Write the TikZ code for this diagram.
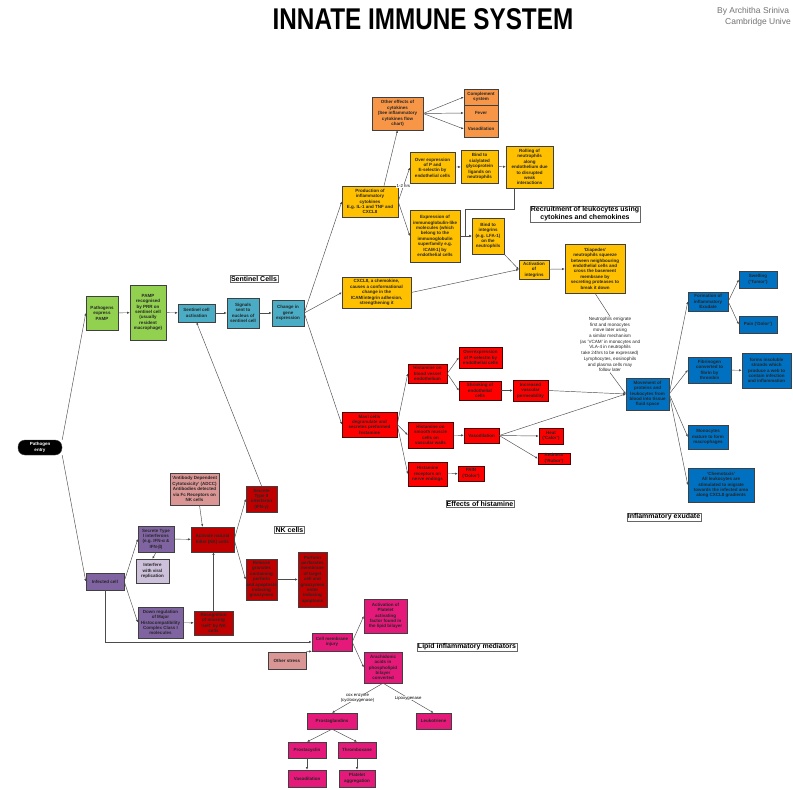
\documentclass[tikz,border=0pt]{standalone}
\usepackage{fontspec}
\setmainfont{Liberation Sans}
\usetikzlibrary{arrows.meta}
\definecolor{limeg}{HTML}{92D050}
\definecolor{aqua}{HTML}{4BACC6}
\definecolor{tangerine}{HTML}{F79646}
\definecolor{amber}{HTML}{FFC000}
\definecolor{scarlet}{HTML}{FF0000}
\definecolor{royal}{HTML}{0070C0}
\definecolor{violet}{HTML}{8064A2}
\definecolor{lilac}{HTML}{CCC0DA}
\definecolor{maroon}{HTML}{C00000}
\definecolor{rose}{HTML}{DA9694}
\definecolor{cerise}{HTML}{E5197A}
\begin{document}
\begin{tikzpicture}[x=1pt,y=-1pt]

      \tikzset{box/.style={draw=black!75, inner sep=0.5pt, align=center, text=black!85,
                 font=\fontsize{4.5}{5.4}\selectfont\bfseries},
               sz/.style 2 args={minimum width=#1pt, minimum height=#2pt},
               greenbox/.style={box, fill=limeg},
               aquabox/.style={box, fill=aqua},
               orangebox/.style={box, fill=tangerine},
               yellowbox/.style={box, fill=amber},
               redbox/.style={box, fill=scarlet, draw=black!70!red},
               bluebox/.style={box, fill=royal},
               purplebox/.style={box, fill=violet},
               lilacbox/.style={box, fill=lilac},
               nkbox/.style={box, fill=maroon},
               rosebox/.style={box, fill=rose},
               pinkbox/.style={box, fill=cerise},
               tag/.style={draw=black!60, fill=white, inner sep=1pt, align=center,
                 font=\fontsize{7}{8}\selectfont\bfseries},
               elab/.style={fill=white, inner sep=0.3pt, align=center, font=\fontsize{4.3}{5}\selectfont},
               link/.style={draw=black!70, line width=0.45pt, -{Latex[length=2.6pt,width=2.2pt]}},
               tie/.style={draw=black!70, line width=0.45pt}}
      \useasboundingbox (0,0) rectangle (793,790);
      \fill[white] (0,0) rectangle (793,790);

%% Headings
      	\node (title) at (423,19) {\scalebox{0.81}[1]{\fontsize{30}{30}\selectfont\bfseries INNATE IMMUNE SYSTEM}};
      	\node[anchor=west, text=black!55, font=\fontsize{8.5}{9}\selectfont, inner sep=0pt] (by) at (717,11) {By Architha Sriniva};
      	\node[anchor=west, text=black!55, font=\fontsize{8.5}{9}\selectfont, inner sep=0pt] (uni) at (725,22) {Cambridge Unive};
      	\node[tag] (tsentinel) at (254,279) {Sentinel Cells};
      	\node[tag] (trecruit) at (585,214) {Recruitment of leukocytes using\\cytokines and chemokines};
      	\node[tag] (thist) at (480,504) {Effects of histamine};
      	\node[tag] (texud) at (664,517) {Inflammatory exudate};
      	\node[tag] (tnk) at (289.5,529.5) {NK cells};
      	\node[tag] (tlipid) at (467,647) {Lipid inflammatory mediators};

%% Sentinel cells
      	\node[box, fill=black, text=white, rounded corners=7pt, sz={44}{15}] (entry) at (40,447.5) {Pathogen\\entry};
      	\node[greenbox, sz={32}{34}] (pamp) at (102,313) {Pathogens\\express\\PAMP};
      	\node[greenbox, sz={36}{55}] (prr) at (148,312.5) {PAMP\\recognised\\by PRR on\\sentinel cell\\(usually\\resident\\macrophage)};
      	\node[aquabox, sz={37}{18}] (sact) at (196.5,313) {Sentinel cell\\activation};
      	\node[aquabox, sz={32}{30}] (signals) at (243,313) {Signals\\sent to\\nucleus of\\sentinel cell};
      	\node[aquabox, sz={32}{26}] (gene) at (288,313) {Change in\\gene\\expression};

%% Cytokines and chemokines
      	\node[orangebox, sz={51}{33}] (other) at (397.5,113.5) {Other effects of\\cytokines\\(See inflammatory\\cytokines flow\\chart)};
      	\node[orangebox, sz={34}{16}] (compl) at (481,97) {Complement\\system};
      	\node[orangebox, sz={34}{16}] (fever) at (481,113) {Fever};
      	\node[orangebox, sz={34}{16}] (vasoa) at (481,129) {Vasodilation};
      	\node[yellowbox, sz={56}{31}] (prod) at (370,201.5) {Production of\\inflammatory\\cytokines\\E.g. IL-1 and TNF and\\CXCL8};
      	\node[yellowbox, sz={45}{31}] (overexp) at (432.5,167.5) {Over expression\\of P and\\E-selectin by\\endothelial cells};
      	\node[yellowbox, sz={37}{33}] (sialyl) at (479.5,166.5) {Bind to\\sialylated\\glycoprotein\\ligands on\\neutrophils};
      	\node[yellowbox, sz={47}{42}] (rolling) at (529.5,167) {Rolling of\\neutrophils\\along\\endothelium due\\to disrupted\\weak\\interactions};
      	\node[yellowbox, sz={50}{52}] (igexp) at (435,236) {Expression of\\immunoglobulin-like\\molecules (which\\belong to the\\immunoglobulin\\superfamily e.g.\\ICAM-1) by\\endothelial cells};
      	\node[yellowbox, sz={32}{36}] (bindint) at (488,236) {Bind to\\integrins\\(e.g. LFA-1)\\on the\\neutrophils};
      	\node[yellowbox, sz={30}{19}] (actint) at (534,269.5) {Activation\\of\\integrins};
      	\node[yellowbox, sz={69}{31}] (cxcl) at (376.5,292.5) {CXCL8, a chemokine,\\causes a conformational\\change in the\\ICAM/integrin adhesion,\\strengthening it};
      	\node[yellowbox, sz={60}{49}] (diap) at (595,268.5) {`Diapedes'\\neutrophils squeeze\\between neighbouring\\endothelial cells and\\cross the basement\\membrane by\\secreting proteases to\\break it down};
      	\node[align=center, inner sep=0.5pt, text=black!85, font=\fontsize{4.6}{5.7}\selectfont] (note) at (610,344.5) {Neutrophils emigrate\\first and monocytes\\move later using\\a similar mechanism\\(as `VCAM' in monocytes and\\VLA-4 in neutrophils\\take 24hrs to be expressed)\\Lymphocytes, eosinophils\\and plasma cells may\\follow later};
      	\coordinate (rj) at (465,209);

%% Histamine
      	\node[redbox, sz={55}{25}] (mast) at (369.5,424.5) {Mast cells\\degranulate and\\secretes preformed\\histamine};
      	\node[redbox, sz={39}{19}] (hbv) at (427.5,373.5) {Histamine on\\blood vessel\\endothelium};
      	\node[redbox, sz={43}{21}] (psel) at (480.5,357.5) {Overexpression\\of P-selectin by\\endothelial cells};
      	\node[redbox, sz={42}{19}] (shrink) at (480,390.5) {Shrinking of\\endothelial\\cells};
      	\node[redbox, sz={35}{21}] (perm) at (530.5,390.5) {Increased\\vascular\\permeability};
      	\node[redbox, sz={45}{26}] (hsm) at (430.5,435) {Histamine on\\smooth muscle\\cells on\\vascular walls};
      	\node[redbox, sz={35}{15}] (vasob) at (481.5,435.5) {Vasodilation};
      	\node[redbox, sz={24}{16}] (heat) at (551,436) {Heat\\(`Calor')};
      	\node[redbox, sz={32}{11}] (redness) at (554,458.5) {Redness\\(`Rubor')};
      	\node[redbox, sz={39}{24}] (hne) at (427.5,474) {Histamine\\receptors on\\nerve endings};
      	\node[redbox, sz={26}{15}] (paina) at (471,473.5) {PAIN\\(`Dolor')};

%% Exudate
      	\node[bluebox, sz={43}{32}] (move) at (647.5,394) {Movement of\\proteins and\\leukocytes from\\blood into tissue\\fluid space};
      	\node[bluebox, sz={40}{19}] (exud) at (708,301.5) {Formation of\\inflammatory\\Exudate};
      	\node[bluebox, sz={38}{17}] (swell) at (758,279.5) {Swelling\\(`Tumor')};
      	\node[bluebox, sz={38}{17}] (painb) at (758,324.5) {Pain (`Dolor')};
      	\node[bluebox, sz={43}{26}] (fibr) at (709.5,370) {Fibrinogen\\converted to\\fibrin by\\thrombin};
      	\node[bluebox, sz={49}{35}] (web) at (766.5,370.5) {forms insoluble\\strands which\\produce a web to\\contain infection\\and inflammation};
      	\node[bluebox, sz={40}{24}] (mono) at (708,437) {Monocytes\\mature to form\\macrophages};
      	\node[bluebox, sz={66}{34}] (chemo) at (721,485) {`Chemotaxis'\\All leukocytes are\\stimulated to migrate\\towards the infected area\\along CXCL8 gradients};

%% NK cells
      	\node[purplebox, sz={38}{17}] (infected) at (105,581.5) {Infected cell};
      	\node[purplebox, sz={36}{26}] (ifna) at (156,539) {Secrete Type\\I interferons\\(e.g. IFN-α \&\\IFN-β)};
      	\node[lilacbox, sz={33}{24}] (interf) at (152.5,571) {Interfere\\with viral\\replication};
      	\node[purplebox, sz={45}{31}] (mhc) at (160.5,622.5) {Down regulation\\of Major\\Histocompatibility\\Complex Class I\\molecules};
      	\node[rosebox, sz={49}{32}] (adcc) at (194.5,489) {`Antibody Dependent\\Cytotoxicity' (ADCC)\\Antibodies detected\\via Fc Receptors on\\NK cells};
      	\node[nkbox, sz={43}{25}] (nk) at (212.5,539.5) {Activate natural\\killer (NK) cells};
      	\node[nkbox, sz={31}{26}] (ifnb) at (261.5,499) {Secrete\\Type II\\interferon\\(IFN-γ)};
      	\node[nkbox, sz={31}{41}] (gran) at (261.5,579.5) {Release\\granules\\containing\\perforin\\and apoptosis\\inducing\\granzymes};
      	\node[nkbox, sz={29}{55}] (perf) at (312.5,579.5) {Perforin\\perforates\\membrane\\of target\\cell and\\granzymes\\enter\\inducing\\apoptosis};
      	\node[nkbox, sz={39}{24}] (recog) at (213.5,623) {Recognition\\of missing\\`self' by NK\\cells};

%% Lipid mediators
      	\node[pinkbox, sz={40}{18}] (cmi) at (332,642) {Cell membrane\\injury};
      	\node[rosebox, sz={38}{17}] (stress) at (287,660.5) {Other stress};
      	\node[pinkbox, sz={43}{34}] (paf) at (385.5,616) {Activation of\\Platelet\\activating\\factor found in\\the lipid bilayer};
      	\node[pinkbox, sz={38}{31}] (arach) at (383,667.5) {Arachidonic\\acids in\\phospholipid\\bilayer\\converted};
      	\node[pinkbox, sz={50}{16}] (prost) at (332,721) {Prostaglandins};
      	\node[pinkbox, sz={35}{16}] (leuko) at (433.5,721) {Leukotriene};
      	\node[pinkbox, sz={38}{16}] (cyclin) at (307,750) {Prostacyclin};
      	\node[pinkbox, sz={38}{16}] (thromb) at (357,750) {Thromboxane};
      	\node[pinkbox, sz={38}{17}] (vasoc) at (307,778.5) {Vasodilation};
      	\node[pinkbox, sz={36}{17}] (plat) at (357,778.5) {Platelet\\aggregation};

%Edges
		\path (entry.north east) edge[link] (pamp.west);
		\path (entry.south east) edge[link] (infected.west);
		\path (pamp) edge[link] (prr);
		\path (prr) edge[link] (sact);
		\path (sact) edge[link] (signals);
		\path (signals) edge[link] (gene);
		\path (gene.east) edge[link] (prod.west);
		\path (gene.east) edge[link] (cxcl.west);
		\path (gene.east) edge[link] (mast.west);

		\path ([xshift=14pt]prod.north) edge[link] (other.south);
		\path (other.east) edge[link] (compl.west);
		\path (other.east) edge[link] (fever.west);
		\path (other.east) edge[link] (vasoa.west);
		\path (prod.east) edge[link] node[elab, pos=0.45] {1-2 hrs} (overexp.west);
		\path (prod.east) edge[link] (igexp.west);
		\path (overexp) edge[link] (sialyl);
		\path (sialyl) edge[link] (rolling);
		\draw[tie] ([xshift=-15pt]rolling.south) |- (rj);
		\draw[link] (rj) |- (bindint.west);
		\path (igexp) edge[link] (bindint);
		\path (bindint.south east) edge[link] (actint.west);
		\path (cxcl.east) edge[link] (actint.west);
		\path (actint) edge[link] (diap);
		\path (diap.south) edge[tie] (note.north);
		\path (note.south) edge[link] (move.west);

		\path (mast.east) edge[link] (hbv.west);
		\path (mast.east) edge[link] (hsm.west);
		\path (mast.east) edge[link] (hne.west);
		\path (hbv.east) edge[link] (psel.west);
		\path (hbv.east) edge[link] (shrink.west);
		\path (shrink) edge[link] (perm);
		\path (perm.east) edge[link] (move.west);
		\path (hsm) edge[link] (vasob);
		\path (vasob.east) edge[link] (heat.west);
		\path (vasob.east) edge[link] (redness.west);
		\path (vasob.east) edge[link] (move.west);
		\path (hne) edge[link] (paina);

		\path (move.east) edge[link] (exud.west);
		\path (move.east) edge[link] (fibr.west);
		\path (move.east) edge[link] (mono.west);
		\path (move.east) edge[link] (chemo.west);
		\path (exud.east) edge[link] (swell.west);
		\path (exud.east) edge[link] (painb.west);
		\path (fibr) edge[link] (web);

		\path (infected.east) edge[link] (ifna.west);
		\path (infected.east) edge[link] (mhc.west);
		\path (ifna.south) edge[link] (interf.north);
		\path (ifna) edge[link] (nk);
		\path ([xshift=5pt]adcc.south) edge[link] ([xshift=-10pt]nk.north);
		\path (mhc) edge[link] (recog);
		\path (recog.north) edge[link] (recog.north |- nk.south);
		\path (nk.east) edge[link] (ifnb.west);
		\path (nk.east) edge[link] (gran.west);
		\path (gran) edge[link] (perf);
		\path (ifnb.north) edge[link] (sact.south);

		\draw[link] (infected.south) |- (cmi.west);
		\path (stress.north east) edge[link] (cmi.south west);
		\path (cmi.east) edge[link] (paf.west);
		\path (cmi.east) edge[link] (arach.west);
		\path (arach.south) edge[link] node[elab] {cox enzyme\\(cyclooxygenase)} (prost.north);
		\path (arach.south) edge[link] node[elab] {Lipoxygenase} (leuko.north);
		\path (prost.south) edge[link] (cyclin.north);
		\path (prost.south) edge[link] (thromb.north);
		\path (cyclin) edge[link] (vasoc);
		\path (thromb) edge[link] (plat);

	\end{tikzpicture}
\end{document}
